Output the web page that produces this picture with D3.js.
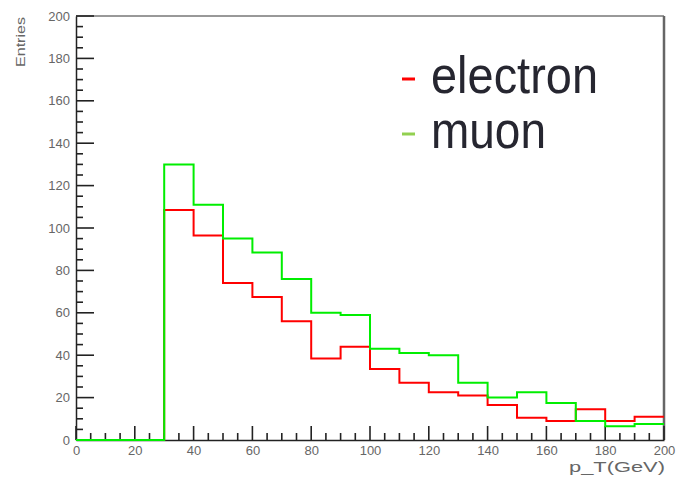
<!DOCTYPE html>
<html><head><meta charset="utf-8">
<script src="https://cdn.jsdelivr.net/npm/d3@7"></script>
<style>
html,body{margin:0;padding:0;background:#fff;}
svg{display:block;}
</style></head>
<body>
<svg id="c" width="677" height="479"></svg>
<script>
// ---- data ----
const binLow = [0,10,20,30,40,50,60,70,80,90,100,110,120,130,140,150,160,170,180,190];
const electron = [0,0,0,108.5,96.5,74,67.5,56,38.5,44,33.5,27,22.5,21,16.5,10.5,9,14.5,9,11];
const muon = [0,0,0,130,111,95,88.5,76,60,59,43,41,40,27,20,22.5,17.5,9,6.5,7.5];
const xMajorTicks = [0,20,40,60,80,100,120,140,160,180,200];
const yMajorTicks = [0,20,40,60,80,100,120,140,160,180,200];
const seriesNames = ["electron","muon"];
const seriesColors = ["#ff0000","#00ee00"];
const legendDashColors = ["#ff0000","#92d050"];
const xTitle = "p_T(GeV)";
const yTitle = "Entries";

const W = 677, H = 479;
const m = {left:76, right:13, top:16, bottom:39};
const svg = d3.select("#c");
const x = d3.scaleLinear().domain([0,200]).range([m.left, W-m.right]);
const y = d3.scaleLinear().domain([0,200]).range([H-m.bottom, m.top]);
const font = "Liberation Sans, Arial, sans-serif";

// frame
svg.append("line").attr("x1",x(0)).attr("x2",x(200)).attr("y1",y(200)).attr("y2",y(200))
  .attr("stroke","#333").attr("stroke-width",1);
svg.append("line").attr("x1",x(200)).attr("x2",x(200)).attr("y1",y(200)).attr("y2",y(0))
  .attr("stroke","#666").attr("stroke-width",2.5);

const minorVals = d3.range(0,201,5).filter(v=>v%20!==0);
const tickG = svg.append("g").attr("stroke","#222").attr("stroke-width",1.6);
// x ticks (inward, upward)
tickG.selectAll("line.xmin").data(minorVals).join("line").attr("class","xmin")
  .attr("x1",d=>x(d)).attr("x2",d=>x(d)).attr("y1",y(0)).attr("y2",y(0)-7);
tickG.selectAll("line.xmaj").data(xMajorTicks).join("line").attr("class","xmaj")
  .attr("x1",d=>x(d)).attr("x2",d=>x(d)).attr("y1",y(0)).attr("y2",y(0)-14);
// y ticks (inward, rightward)
tickG.selectAll("line.ymin").data(minorVals).join("line").attr("class","ymin")
  .attr("y1",d=>y(d)).attr("y2",d=>y(d)).attr("x1",x(0)).attr("x2",x(0)+7);
tickG.selectAll("line.ymaj").data(yMajorTicks).join("line").attr("class","ymaj")
  .attr("y1",d=>y(d)).attr("y2",d=>y(d)).attr("x1",x(0)).attr("x2",x(0)+18);

// axis lines + labels
const xa = svg.append("g").attr("transform",`translate(0,${y(0)})`)
  .call(d3.axisBottom(x).tickValues(xMajorTicks).tickSize(0).tickPadding(6));
xa.select(".domain").attr("stroke","#222").attr("stroke-width",1.5);
xa.selectAll("text").attr("font-family",font).attr("font-size",13).attr("fill","#666");

const ya = svg.append("g").attr("transform",`translate(${x(0)},0)`)
  .call(d3.axisLeft(y).tickValues(yMajorTicks).tickSize(0).tickPadding(6));
ya.select(".domain").attr("stroke","#222").attr("stroke-width",1.5);
ya.selectAll("text").attr("font-family",font).attr("font-size",13).attr("fill","#666");

// axis titles
svg.append("text").attr("x",x(200)+1).attr("y",472).attr("text-anchor","end")
  .attr("font-family",font).attr("font-size",15).attr("fill","#666")
  .attr("textLength",96).attr("lengthAdjust","spacingAndGlyphs").text(xTitle);
svg.append("text").attr("transform",`translate(25,67) rotate(-90)`).attr("text-anchor","start")
  .attr("font-family",font).attr("font-size",13).attr("fill","#666")
  .attr("textLength",50).attr("lengthAdjust","spacingAndGlyphs").text(yTitle);

// histograms
const stepLine = d3.line().x(d=>x(d[0])).y(d=>y(d[1])).curve(d3.curveStepAfter);
[electron, muon].forEach((vals,i)=>{
  const pts = binLow.map((b,j)=>[b, vals[j]]);
  pts.push([200, vals[vals.length-1]]);
  svg.append("path").attr("d", stepLine(pts)).attr("fill","none")
    .attr("stroke", seriesColors[i]).attr("stroke-width",2);
});

// legend
const legY = [93, 148];
seriesNames.forEach((name,i)=>{
  svg.append("line").attr("x1",402).attr("x2",415).attr("y1",legY[i]-14).attr("y2",legY[i]-14)
    .attr("stroke",legendDashColors[i]).attr("stroke-width",3);
  svg.append("text").attr("x",431).attr("y",legY[i])
    .attr("font-family",font).attr("font-size",52)
    .attr("fill","#262630")
    .attr("textLength", i===0?167:115).attr("lengthAdjust","spacingAndGlyphs")
    .text(name);
});
</script>
</body></html>
